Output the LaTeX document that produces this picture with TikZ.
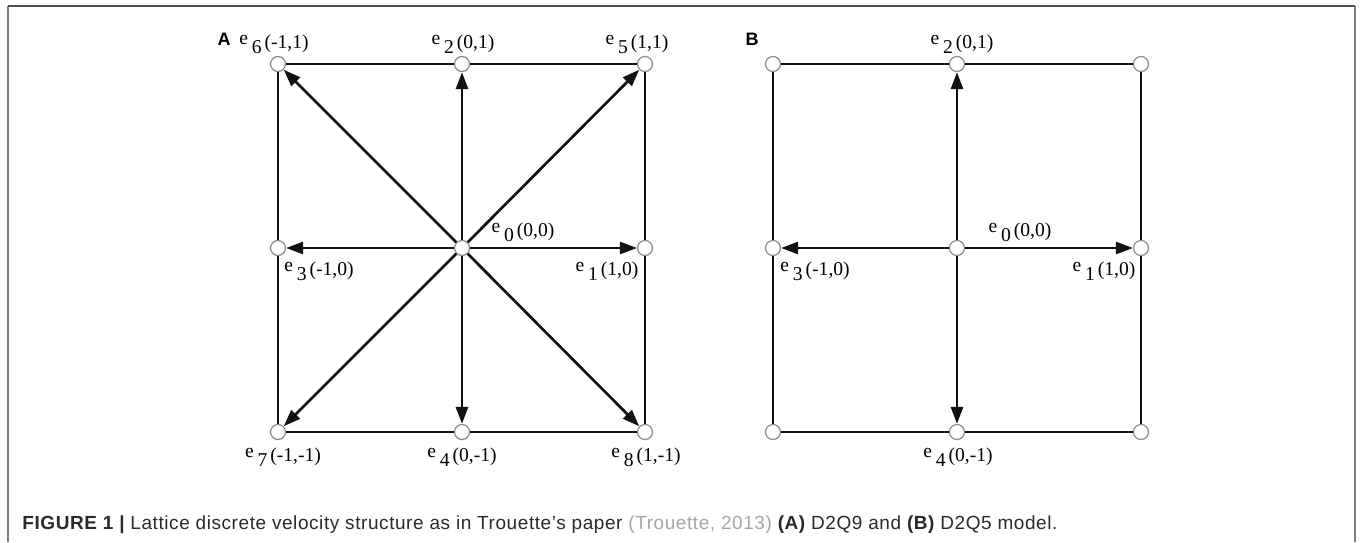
\documentclass[tikz,border=0pt]{standalone}
\usepackage{fontspec}
\setmainfont{Liberation Serif}
\setsansfont{Liberation Sans}
\newfontfamily\capfont[LetterSpace=3,Ligatures=TeX]{Liberation Sans}
\usepackage{tikz}
\usepackage{xcolor}
\usetikzlibrary{arrows.meta}
\definecolor{lbink}{HTML}{111111}
\definecolor{lbring}{HTML}{8A8A8A}
\definecolor{lbframe}{HTML}{808080}
\definecolor{lbrule}{HTML}{505050}
\definecolor{lbcite}{HTML}{A6A6A6}
\definecolor{lbcap}{HTML}{2A2A2A}
\newcommand{\evec}[2]{\raisebox{0.35ex}{e}\hspace{0.2em}\raisebox{-0.6ex}{#1}\hspace{0.15em}#2}
\tikzset{
  latNode/.style={circle, draw=lbring, fill=white, line width=0.6pt, minimum size=7.5pt, inner sep=0pt},
  gridLine/.style={draw=lbink, line width=1.35pt},
  velArrow/.style={-{Triangle[length=8.5pt,width=6pt]}, draw=lbink, line width=1.35pt},
  velLabel/.style={font=\fontsize{9.8}{11}\selectfont, inner sep=0pt},
  panelLabel/.style={font=\sffamily\bfseries\fontsize{9}{11}\selectfont, inner sep=0pt},
  capText/.style={font=\capfont\fontsize{9.5}{11}\selectfont, text=lbcap, anchor=base west, inner sep=0pt}
}

\begin{document}
\begin{tikzpicture}[x=0.5pt,y=-0.5pt]
  \useasboundingbox (0,0) rectangle (1360,542);
  % frame
  \draw[lbframe, line width=1.2pt] (8,542) -- (8,6) (1355,6) -- (1355,542);
  \draw[lbrule, line width=1pt] (8,6) -- (1355,6);
  % panel A: D2Q9
  \foreach \n/\x/\y in {a6/278/64,a2/462/64,a5/645/64,a3/278/248,a0/462/248,a1/645/248,a7/278/432,a4/462/432,a8/645/432}
    \node[latNode] (\n) at (\x,\y) {};
  \draw[gridLine] (a6) -- (a2) -- (a5) -- (a1) -- (a8) -- (a4) -- (a7) -- (a3) -- (a6);
  \foreach \t in {a1,a2,a3,a4,a5,a6,a7,a8}
    \draw[velArrow] (a0) -- (\t);
  \node[panelLabel] (labA) at (224,39) {A};
  \foreach \n/\x/\y/\k/\c in {la6/274/44/6/{(-1,1)},la2/463/44/2/{(0,1)},la5/637/44/5/{(1,1)},
      la0/523/232/0/{(0,0)},la3/319/271/3/{(-1,0)},la1/607/271/1/{(1,0)},
      la7/283/457/7/{(-1,-1)},la4/462/457/4/{(0,-1)},la8/646/457/8/{(1,-1)}}
    \node[velLabel] (\n) at (\x,\y) {\evec{\k}{\c}};
  % panel B: D2Q5
  \foreach \n/\x/\y in {b6/773/64,b2/957/64,b5/1141/64,b3/773/248,b0/957/248,b1/1141/248,b7/773/432,b4/957/432,b8/1141/432}
    \node[latNode] (\n) at (\x,\y) {};
  \draw[gridLine] (b6) -- (b2) -- (b5) -- (b1) -- (b8) -- (b4) -- (b7) -- (b3) -- (b6);
  \foreach \t in {b1,b2,b3,b4}
    \draw[velArrow] (b0) -- (\t);
  \node[panelLabel] (labB) at (752,39) {B};
  \foreach \n/\x/\y/\k/\c in {lb2/962/44/2/{(0,1)},lb0/1020/232/0/{(0,0)},
      lb3/815/271/3/{(-1,0)},lb1/1104/271/1/{(1,0)},lb4/958/457/4/{(0,-1)}}
    \node[velLabel] (\n) at (\x,\y) {\evec{\k}{\c}};
  % caption
  \node[capText] (cap) at (22,529) {{\bfseries FIGURE 1 |} Lattice discrete velocity structure as in Trouette's paper {\color{lbcite}(Trouette, 2013)} {\bfseries (A)} D2Q9 and {\bfseries (B)} D2Q5 model.};
\end{tikzpicture}
\end{document}
